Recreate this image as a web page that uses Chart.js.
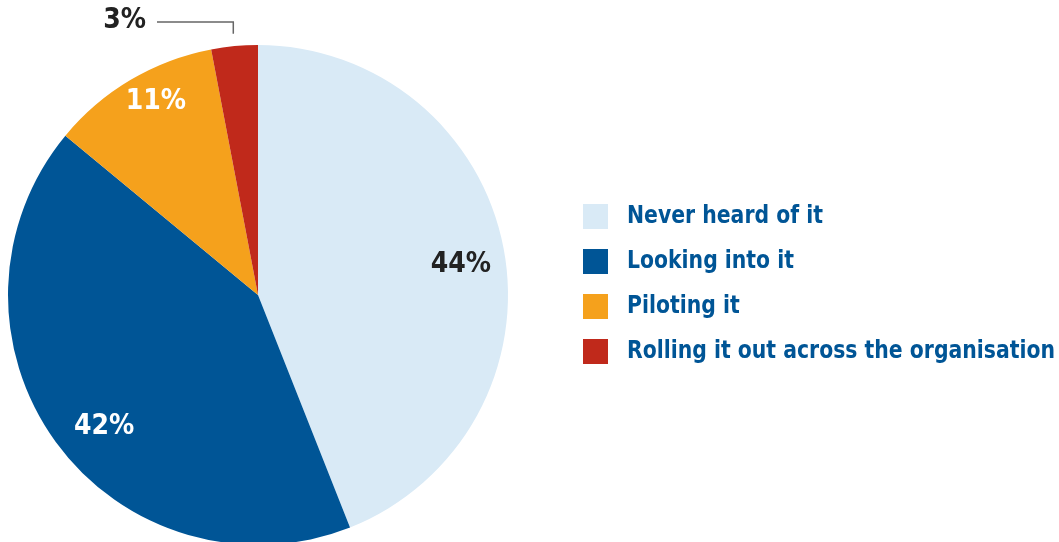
<!DOCTYPE html>
<html>
<head>
<meta charset="utf-8">
<script src="https://cdn.jsdelivr.net/npm/chart.js@4"></script>
<style>
  html, body { margin: 0; padding: 0; background: #fff; overflow: hidden; }
  #wrap { width: 1059px; height: 542px; overflow: hidden; }
</style>
</head>
<body>
<div id="wrap"><canvas id="pie-chart" width="1059" height="550"></canvas></div>
<script>
// Survey answers, clockwise from 12 o'clock
const categories = ['Never heard of it', 'Looking into it', 'Piloting it', 'Rolling it out across the organisation'];
const shares = [44, 42, 11, 3];
const sliceColors = ['#d9eaf6', '#005596', '#f5a11c', '#c0291b'];
const labelColors = ['#222222', '#ffffff', '#ffffff', '#222222'];

const LEGEND_TEXT = '#005596';
const FONT = '"DejaVu Sans Condensed", "Liberation Sans Narrow", sans-serif';

// where each percentage sits inside its slice: fraction along the arc, fraction of radius
const labelSpots = [[0.515, 0.82], [0.47, 0.81], [0.57, 0.875], [0.5, 1.05]];

const sliceLabels = {
  id: 'sliceLabels',
  afterDatasetsDraw(chart) {
    const ctx = chart.ctx;
    const arcs = chart.getDatasetMeta(0).data;
    ctx.save();
    ctx.font = 'bold 28px ' + FONT;
    ctx.textBaseline = 'middle';
    arcs.forEach((arc, i) => {
      const [f, rf] = labelSpots[i];
      const a = arc.startAngle + f * (arc.endAngle - arc.startAngle);
      const r = arc.outerRadius * rf;
      const x = arc.x + Math.cos(a) * r;
      const y = arc.y + Math.sin(a) * r;
      const txt = shares[i] + '%';
      ctx.fillStyle = labelColors[i];
      if (i === 3) {
        // small slice: label pulled out with a leader line
        ctx.strokeStyle = '#666';
        ctx.lineWidth = 1.5;
        ctx.beginPath();
        ctx.moveTo(x, y);
        ctx.lineTo(x, 22);
        ctx.lineTo(157, 22);
        ctx.stroke();
        ctx.textAlign = 'right';
        ctx.fillText(txt, 146, 21);
      } else {
        ctx.textAlign = 'center';
        ctx.fillText(txt, x, y);
      }
    });
    ctx.restore();
  }
};

const sideLegend = {
  id: 'sideLegend',
  afterDraw(chart) {
    const ctx = chart.ctx;
    ctx.save();
    ctx.font = 'bold 25px ' + FONT;
    ctx.textBaseline = 'middle';
    ctx.textAlign = 'left';
    // squeeze the text sideways so the longest label ends near the right edge
    const widest = Math.max(...categories.map(c => ctx.measureText(c).width));
    const sx = Math.min(1, 428 / widest);
    categories.forEach((c, i) => {
      const y = 204 + i * 45;
      ctx.fillStyle = sliceColors[i];
      ctx.fillRect(583, y, 25, 25);
      ctx.fillStyle = LEGEND_TEXT;
      ctx.save();
      ctx.translate(627, y + 12);
      ctx.scale(sx, 1);
      ctx.fillText(c, 0, 0);
      ctx.restore();
    });
    ctx.restore();
  }
};

new Chart(document.getElementById('pie-chart').getContext('2d'), {
  type: 'pie',
  data: {
    labels: categories,
    datasets: [{ data: shares, backgroundColor: sliceColors, borderWidth: 0 }]
  },
  options: {
    responsive: false,
    animation: false,
    layout: { padding: { left: 8, top: 45, right: 551, bottom: 5 } },
    plugins: { legend: { display: false }, tooltip: { enabled: false } }
  },
  plugins: [sliceLabels, sideLegend]
});
</script>
</body>
</html>
